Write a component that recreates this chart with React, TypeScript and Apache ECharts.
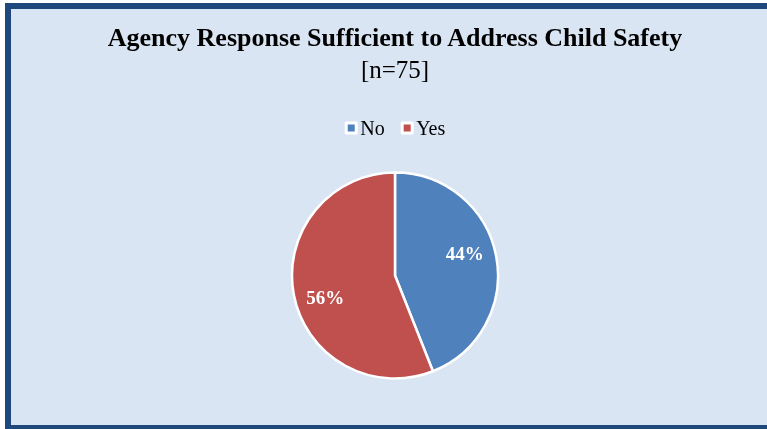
import React, { useEffect, useRef } from "react";
import * as echarts from "echarts";

const titleText = "Agency Response Sufficient to Address Child Safety";
const subtitleText = "[n=75]";
const categories = ["No", "Yes"];
const counts = [33, 42];
const colors = ["#4F81BD", "#C0504D"];

export default function App() {
  const ref = useRef<HTMLDivElement>(null);
  useEffect(() => {
    if (!ref.current) return;
    const chart = echarts.init(ref.current, null, { renderer: "svg" });
    const total = counts.reduce((a, b) => a + b, 0);
    const data = categories.map((name, i) => ({
      name,
      value: counts[i],
      itemStyle: { color: colors[i] },
    }));
    const font = "'Liberation Serif', 'Times New Roman', serif";
    chart.setOption({
      animation: false,
      backgroundColor: "transparent",
      graphic: [
        {
          type: "rect",
          z: -10,
          shape: { x: 8, y: 6, width: 800, height: 422 },
          style: { fill: "#DAE5F3", stroke: "#1F497D", lineWidth: 6 },
        },
        {
          type: "text",
          x: 395,
          y: 24,
          style: {
            text: titleText,
            font: `bold 26px ${font}`,
            fill: "#000",
            textAlign: "center",
          },
        },
        {
          type: "text",
          x: 395,
          y: 57,
          style: {
            text: subtitleText,
            font: `25px ${font}`,
            fill: "#000",
            textAlign: "center",
          },
        },
      ],
      legend: {
        data: categories,
        top: 113,
        left: "center",
        icon: "rect",
        itemWidth: 10,
        itemHeight: 10,
        itemGap: 16,
        itemStyle: { borderColor: "#fff", borderWidth: 3 },
        textStyle: { fontFamily: font, fontSize: 20, color: "#000", padding: [0, 0, 0, -1] },
      },
      series: [
        {
          type: "pie",
          center: [395, 275.5],
          radius: [0, 103],
          startAngle: 90,
          clockwise: true,
          data,
          itemStyle: { borderColor: "#fff", borderWidth: 2.5 },
          label: { show: false },
          labelLine: { show: false },
          emphasis: { disabled: true },
          silent: true,
        },
        {
          type: "pie",
          center: [395, 275.5],
          radius: [37, 103],
          startAngle: 96.5,
          clockwise: true,
          legendHoverLink: false,
          data: data.map((d) => ({ name: d.name + " ", value: d.value, itemStyle: { color: "transparent" } })),
          label: {
            show: true,
            position: "inside",
            formatter: (p: any) => Math.round((p.value / total) * 100) + "%",
            fontFamily: font,
            fontWeight: "bold",
            fontSize: 19,
            color: "#fff",
          },
          labelLine: { show: false },
          emphasis: { disabled: true },
          silent: true,
        },
      ],
    });
    return () => chart.dispose();
  }, []);
  return (
    <div
      ref={ref}
      style={{ position: "fixed", left: 0, top: 0, width: 790, height: 429 }}
    />
  );
}
